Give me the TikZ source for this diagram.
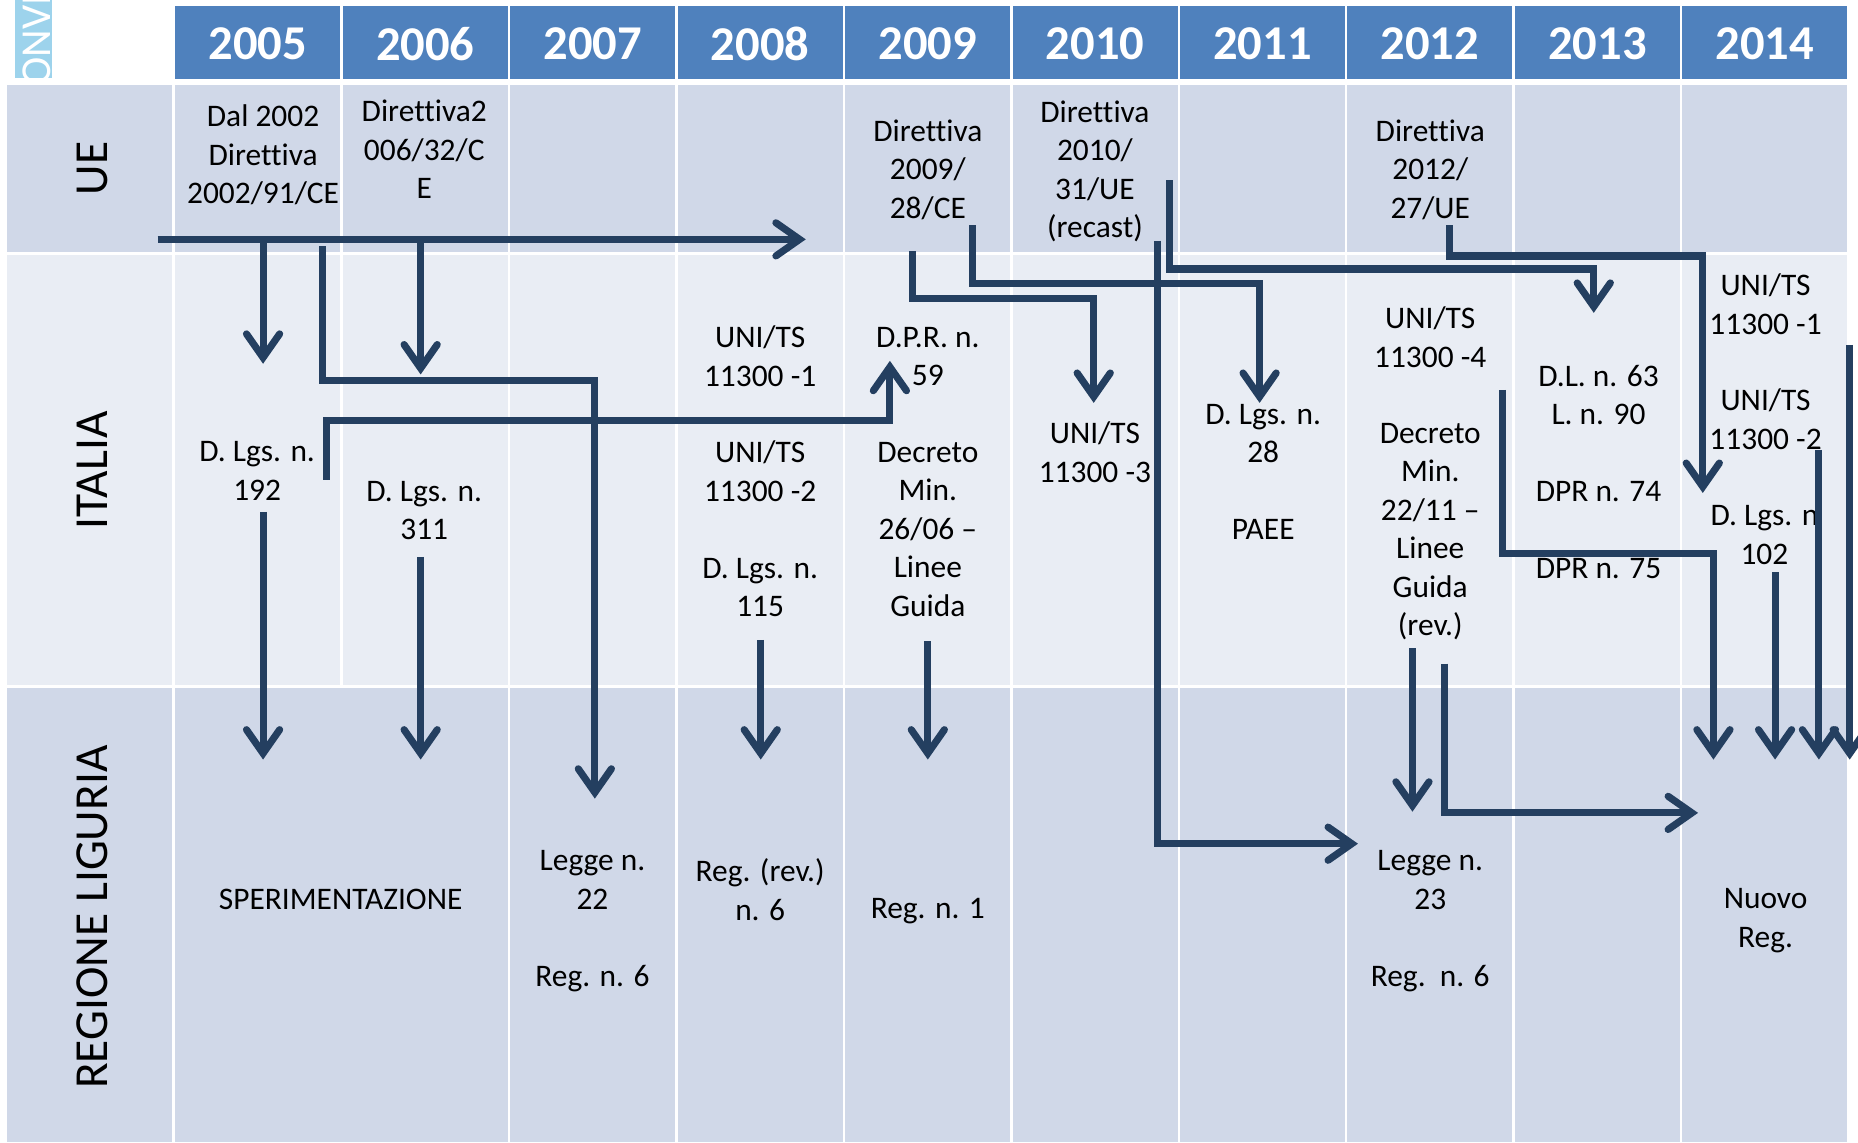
\documentclass[tikz,border=0pt]{standalone}
\usepackage{fontspec}
\setmainfont{Carlito}[Ligatures={TeX,NoCommon}]
\usetikzlibrary{arrows.meta}
\definecolor{hdrblue}{HTML}{4F81BD}
\definecolor{rowdark}{HTML}{D0D8E8}
\definecolor{rowlight}{HTML}{E9EDF4}
\definecolor{navy}{HTML}{243F60}
\definecolor{logoblue}{HTML}{9DD3EC}
\tikzset{
  yearlbl/.style={text=white, font=\fontsize{41}{49}\selectfont\bfseries, inner sep=0pt},
  rowlbl/.style={rotate=90, font=\fontsize{40}{48}\selectfont, inner sep=0pt},
  cell/.style={align=center, font=\fontsize{26.5}{32.5}\selectfont, inner sep=0pt,
    execute at begin node=\strut, execute at end node=\strut},
  link/.style={draw=navy, line width=6pt},
  arr/.style={link, -{Straight Barb[length=20pt,width=28pt,line cap=round]}},
}
\begin{document}
\begin{tikzpicture}[x=1pt,y=-1pt]
\useasboundingbox (0,0) rectangle (1568,964);
\clip (0,0) rectangle (1568,964);
\fill[white] (0,0) rectangle (1568,964);
% logo strip
\begin{scope}
  \clip (12.7,0) rectangle (44.3,65.6);
  \fill[logoblue] (12.7,0) rectangle (44.3,65.6);
  \node[rotate=90, text=white, font=\fontsize{36}{43}\selectfont, inner sep=0pt] (logo) at (31,34) {ONVI};
\end{scope}
% header and body cells
\foreach \i/\yr in {0/2005,1/2006,2/2007,3/2008,4/2009,5/2010,6/2011,7/2012,8/2013,9/2014}{
  \pgfmathsetmacro{\xa}{147+141.3*\i+1}
  \pgfmathsetmacro{\xb}{147+141.3*(\i+1)-1}
  \pgfmathsetmacro{\xc}{147+141.3*(\i+0.5)}
  \fill[hdrblue] (\xa,5) rectangle (\xb,67);
  \node[yearlbl] (yr\yr) at (\xc,37) {\yr};
  \fill[rowdark] (\xa,72) rectangle (\xb,213);
  \fill[rowlight] (\xa,215.5) rectangle (\xb,578);
}
\fill[rowdark] (148,580.5) rectangle (428.6,964);
\foreach \i in {2,...,9}{
  \pgfmathsetmacro{\xa}{147+141.3*\i+1}
  \pgfmathsetmacro{\xb}{147+141.3*(\i+1)-1}
  \fill[rowdark] (\xa,580.5) rectangle (\xb,964);
}
\fill[rowdark] (6,72) rectangle (145.5,213);
\fill[rowlight] (6,215.5) rectangle (145.5,578);
\fill[rowdark] (6,580.5) rectangle (145.5,964);
% row labels
\node[rowlbl] (lblue) at (78,142) {UE};
\node[rowlbl] (lblit) at (78,397) {ITALIA};
\node[rowlbl] (lbllig) at (78,774) {REGIONE LIGURIA};
% UE texts
\node[cell] (ue05) at (222,135) {Dal 2002\\Direttiva\\2002/91/CE};
\node[cell] (ue06) at (358,131) {Direttiva2\\006/32/C\\E};
\node[cell] (ue09) at (783,147.5) {Direttiva\\2009/\\28/CE};
\node[cell] (ue10) at (924,147.5) {Direttiva\\2010/\\31/UE\\(recast)};
\node[cell] (ue12) at (1207,147.5) {Direttiva\\2012/\\27/UE};
% ITALIA texts
\node[cell] (it05) at (217,402.5) {D. Lgs. n.\\192};
\node[cell] (it06) at (358,435.5) {D. Lgs. n.\\311};
\node[cell] (it08a) at (641.5,305.5) {UNI/TS\\11300 -1};
\node[cell] (it08b) at (641.5,402.5) {UNI/TS\\11300 -2};
\node[cell] (it08c) at (641.5,500.5) {D. Lgs. n.\\115};
\node[cell] (it09a) at (783,305.5) {D.P.R. n.\\59};
\node[cell] (it09b) at (783,451.5) {Decreto\\Min.\\26/06 –\\Linee\\Guida};
\node[cell] (it10) at (924,386.5) {UNI/TS\\11300 -3};
\node[cell] (it11a) at (1066,370.5) {D. Lgs. n.\\28};
\node[cell] (it11b) at (1066,449) {PAEE};
\node[cell] (it12a) at (1207,289.5) {UNI/TS\\11300 -4};
\node[cell] (it12b) at (1207,451.5) {Decreto\\Min.\\22/11 –\\Linee\\Guida\\(rev.)};
\node[cell] (it13a) at (1349,338) {D.L. n. 63\\L. n. 90};
\node[cell] (it13b) at (1349,417) {DPR n. 74};
\node[cell] (it13c) at (1349,482) {DPR n. 75};
\node[cell] (it14a) at (1490,261.5) {UNI/TS\\11300 -1};
\node[cell] (it14b) at (1490,358.5) {UNI/TS\\11300 -2};
\node[cell] (it14c) at (1489,456.5) {D. Lgs. n\\102};
% REGIONE LIGURIA texts
\node[cell] (rl0506) at (287.5,761) {SPERIMENTAZIONE};
\node[cell] (rl07a) at (500,747.5) {Legge n.\\22};
\node[cell] (rl07b) at (500,826) {Reg. n. 6};
\node[cell] (rl08) at (641.5,755.5) {Reg. (rev.)\\n. 6};
\node[cell] (rl09) at (783,769) {Reg. n. 1};
\node[cell] (rl12a) at (1207,747.5) {Legge n.\\23};
\node[cell] (rl12b) at (1207,826) {Reg.~\ n. 6};
\node[cell] (rl14) at (1490,779.5) {Nuovo\\Reg.};
% connector coordinates
\coordinate (c1s) at (133,202);   \coordinate (c1e) at (680,202);
\coordinate (c2s) at (222,202);   \coordinate (c2e) at (222,307);
\coordinate (c3s) at (355,202);   \coordinate (c3e) at (355,316);
\coordinate (c4s) at (272.5,208); \coordinate (c4m) at (502,321);  \coordinate (c4e) at (502,674);
\coordinate (c5s) at (275.5,405); \coordinate (c5m) at (751,354.5); \coordinate (c5e) at (751,304.5);
\coordinate (c6s) at (222,432);   \coordinate (c6e) at (222,641);
\coordinate (c7s) at (355,470);   \coordinate (c7e) at (355,641);
\coordinate (c8s) at (642,540);   \coordinate (c8e) at (642,641);
\coordinate (c9s) at (783,541);   \coordinate (c9e) at (783,641);
\coordinate (c10s) at (770,212);  \coordinate (c10m) at (923,252); \coordinate (c10e) at (923,340);
\coordinate (c11s) at (821,190);  \coordinate (c11m) at (1063,239); \coordinate (c11e) at (1063,340);
\coordinate (c12s) at (976.5,203); \coordinate (c12e) at (1146,712);
\coordinate (c13s) at (987,152);  \coordinate (c13m) at (1345,227); \coordinate (c13e) at (1345,264);
\coordinate (c14s) at (1223,190); \coordinate (c14m) at (1437,216); \coordinate (c14e) at (1437,416);
\coordinate (c15s) at (1268,329); \coordinate (c15m) at (1446,467); \coordinate (c15e) at (1446,641);
\coordinate (c16s) at (1192,547); \coordinate (c16e) at (1192,685);
\coordinate (c17s) at (1219,560); \coordinate (c17e) at (1433,686);
\coordinate (c18s) at (1498,483); \coordinate (c18e) at (1498,641);
\coordinate (c19s) at (1535,380); \coordinate (c19e) at (1535,641);
\coordinate (c20s) at (1561,291); \coordinate (c20e) at (1561,641);
% connectors
\draw[arr] (c1s) -- (c1e);
\draw[arr] (c2s) -- (c2e);
\draw[arr] (c3s) -- (c3e);
\draw[arr] (c4s) |- (c4m) -- (c4e);
\draw[arr] (c5s) |- (c5m) -- (c5e);
\draw[arr] (c6s) -- (c6e);
\draw[arr] (c7s) -- (c7e);
\draw[arr] (c8s) -- (c8e);
\draw[arr] (c9s) -- (c9e);
\draw[arr] (c10s) |- (c10m) -- (c10e);
\draw[arr] (c11s) |- (c11m) -- (c11e);
\draw[arr] (c12s) |- (c12e);
\draw[arr] (c13s) |- (c13m) -- (c13e);
\draw[arr] (c14s) |- (c14m) -- (c14e);
\draw[arr] (c15s) |- (c15m) -- (c15e);
\draw[arr] (c16s) -- (c16e);
\draw[arr] (c17s) |- (c17e);
\draw[arr] (c18s) -- (c18e);
\draw[arr] (c19s) -- (c19e);
\draw[arr] (c20s) -- (c20e);
\end{tikzpicture}
\end{document}
